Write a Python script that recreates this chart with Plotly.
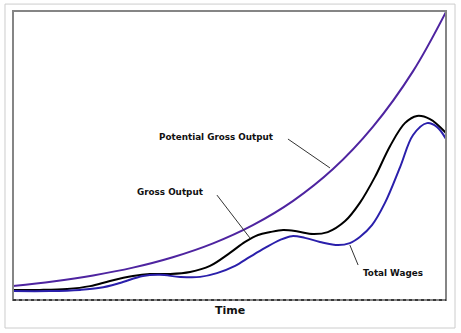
import plotly.graph_objects as go

# Time axis (0-100) and series values (0-100 scale)
pot_t = [0, 9.2, 18.5, 27.7, 36.9, 46.2, 55.4, 64.7, 73.9, 83.1, 92.4, 100]
pot_v = [4.8, 6.4, 8.5, 11.2, 14.8, 19.6, 25.9, 34.3, 45.3, 59.9, 79.2, 99.7]

gross_t = [0, 6.2, 12.5, 17.8, 22.4, 27.7, 31.6, 36.3, 40.9, 45.5, 50.1, 53.6, 56.6, 59.4,
           62.4, 65.8, 69.3, 72.7, 76.7, 80.1, 83.6, 87.1, 90.5, 93.3, 96.3, 100]
gross_v = [3.5, 3.5, 3.8, 4.8, 6.6, 8.3, 9.0, 9.0, 9.7, 11.8, 16.3, 20.1, 22.5, 23.5,
           24.2, 23.7, 22.8, 23.5, 27.3, 33.6, 42.6, 53.3, 61.2, 63.7, 62.6, 57.8]

wage_t = [0, 8.5, 15.5, 20.1, 24.7, 30.0, 33.9, 38.6, 43.2, 47.1, 51.3, 54.7, 58.2, 61.7,
          64.4, 67.4, 70.9, 75.1, 77.8, 80.1, 82.9, 85.9, 89.4, 92.4, 95.6, 97.9, 100]
wage_v = [3.1, 3.1, 3.5, 4.2, 5.9, 8.3, 8.7, 8.0, 8.0, 9.3, 11.8, 14.9, 18.0, 20.8,
          22.1, 21.5, 20.1, 19.0, 19.7, 21.8, 25.9, 33.6, 46.0, 57.1, 61.2, 59.9, 55.7]

fig = go.Figure()
fig.add_trace(go.Scatter(x=pot_t, y=pot_v, mode="lines",
                         line=dict(color="#4e24a0", width=2, shape="spline", smoothing=1.0)))
fig.add_trace(go.Scatter(x=gross_t, y=gross_v, mode="lines",
                         line=dict(color="#000000", width=2, shape="spline", smoothing=1.0)))
fig.add_trace(go.Scatter(x=wage_t, y=wage_v, mode="lines",
                         line=dict(color="#2a1fab", width=2, shape="spline", smoothing=1.0)))

lab_font = dict(family="DejaVu Sans", size=8.8, color="#111111")
anns = [
    dict(x=46.9, y=56.4, text="<b>Potential Gross Output</b>", showarrow=False, font=lab_font),
    dict(x=36.3, y=37.4, text="<b>Gross Output</b>", showarrow=False, font=lab_font),
    dict(x=87.8, y=9.3, text="<b>Total Wages</b>", showarrow=False, font=lab_font),
    dict(x=0.5, y=-0.035, xref="paper", yref="paper", text="<b>Time</b>", showarrow=False,
         font=dict(family="DejaVu Sans", size=11, color="#111111"), yanchor="middle"),
]

leader = dict(color="#333333", width=1)
shapes = [
    dict(type="line", x0=63.5, y0=55.7, x1=73.2, y1=45.7, line=leader),
    dict(type="line", x0=47.1, y0=36.3, x1=54.7, y1=21.5, line=leader),
    dict(type="line", x0=77.8, y0=19.0, x1=79.7, y1=12.1, line=leader),
    # plot frame
    dict(type="rect", xref="paper", yref="paper", x0=0, y0=0, x1=1, y1=1,
         line=dict(color="#858585", width=2), layer="above"),
    dict(type="line", xref="paper", yref="paper", x0=0, y0=0, x1=1, y1=0,
         line=dict(color="#222222", width=1.5, dash="dot"), layer="above"),
    # outer light frame
    dict(type="rect", xref="paper", yref="paper", x0=-0.0185, y0=-0.0969, x1=1.0208, y1=1.024,
         line=dict(color="#cccccc", width=1), layer="below"),
]

fig.update_layout(
    width=461, height=333,
    margin=dict(l=13, r=15, t=11, b=33),
    paper_bgcolor="white", plot_bgcolor="white",
    showlegend=False,
    xaxis=dict(range=[0, 100], visible=False, fixedrange=True),
    yaxis=dict(range=[0, 100], visible=False, fixedrange=True),
    annotations=anns, shapes=shapes,
)

fig.write_html("out.html", config=dict(displayModeBar=False))
